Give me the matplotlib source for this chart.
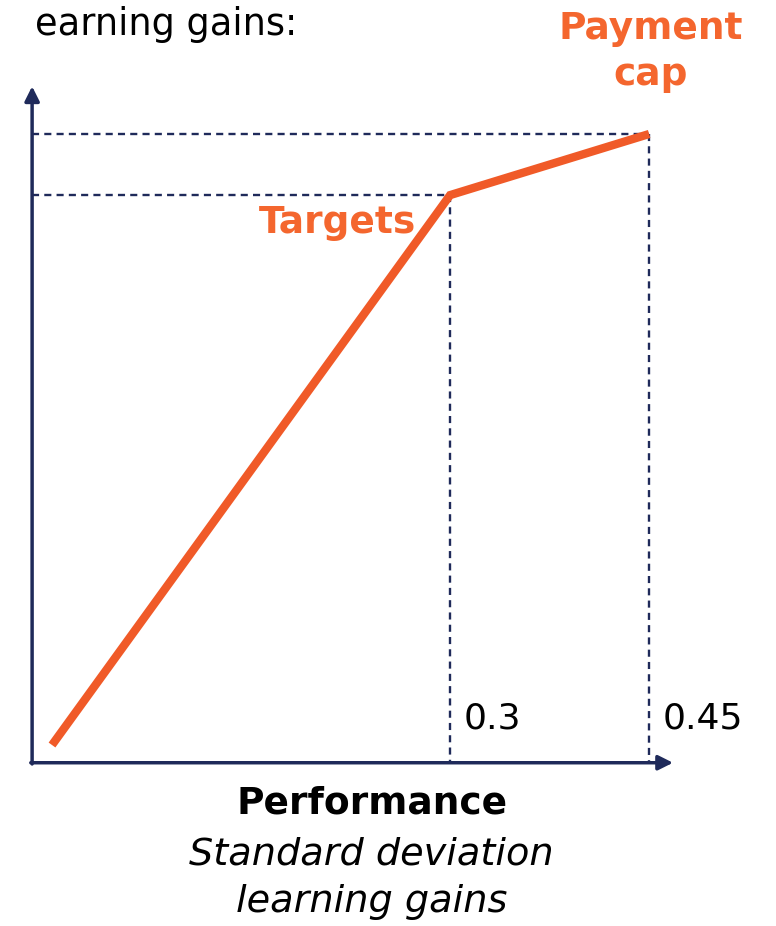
import matplotlib.pyplot as plt

# performance (SD learning gains) vs payment (share of cap)
performance = [0.0, 0.3, 0.45]
payment = [0.0, 0.9, 1.0]
tick_values = [0.3, 0.45]
tick_labels = ["0.3", "0.45"]

orange = "#f05a28"
orange_txt = "#f4662e"
navy = "#1f2a5a"

plt.rcParams['font.family'] = ['DejaVu Sans']

fig = plt.figure(figsize=(7.76, 9.26), dpi=100)
ax = fig.add_axes([0, 0, 1, 1])
ax.set_xlim(-0.0392, 0.5456)
ax.set_ylim(-0.2962, 1.2193)
ax.axis("off")

x0, y0 = -0.015, -0.029

# axes with arrows
ax.annotate("", xy=(0.468, y0), xytext=(x0 - 0.001, y0),
            arrowprops=dict(arrowstyle="-|>", lw=2.5, color=navy, mutation_scale=22, shrinkA=0, shrinkB=0))
ax.annotate("", xy=(x0, 1.078), xytext=(x0, y0 - 0.002),
            arrowprops=dict(arrowstyle="-|>", lw=2.5, color=navy, mutation_scale=22, shrinkA=0, shrinkB=0))

# dashed guides
for px, py in zip(performance[1:], payment[1:]):
    ax.plot([x0, px], [py, py], ls=(0, (3, 2.2)), lw=1.7, color=navy)
    ax.plot([px, px], [py, y0], ls=(0, (3, 2.2)), lw=1.7, color=navy)

ax.plot(performance, payment, color=orange, lw=6, solid_capstyle="butt", solid_joinstyle="miter", zorder=5)

for v, lab in zip(tick_values, tick_labels):
    ax.text(v + 0.010, 0.043, lab, fontsize=26, color="black", ha="left", va="center")

ax.text(0.2745, 0.854, "Targets", fontsize=27, fontweight="bold", color=orange_txt, ha="right", va="center")
ax.text(0.451, 1.134, "Payment\ncap", fontsize=27, fontweight="bold", color=orange_txt,
        ha="center", va="center", linespacing=1.35)

ax.text(0.1848, 1.18, "earning gains:", fontsize=26.5, color="black", ha="right", va="center")

ax.text(0.241, -0.095, "Performance", fontsize=27, fontweight="bold", color="black", ha="center", va="center")
ax.text(0.241, -0.218, "Standard deviation\nlearning gains", fontsize=27.5, style="italic", color="black",
        ha="center", va="center", linespacing=1.4)

fig.savefig("out.png", dpi=100)
